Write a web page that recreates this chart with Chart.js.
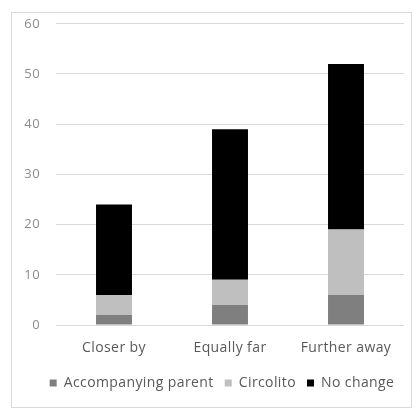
<!DOCTYPE html>
<html>
<head>
<meta charset="utf-8">
<script src="https://cdn.jsdelivr.net/npm/chart.js@4.4.1/dist/chart.umd.min.js"></script>
<style>
  html, body { margin: 0; padding: 0; background: #fff; }
  #wrap { position: relative; width: 416px; height: 410px; }
  #frame { position: absolute; left: 11px; top: 12px; width: 401px; height: 396px; border: 1px solid #d9d9d9; box-sizing: border-box; pointer-events: none; }
  canvas { position: absolute; left: 0; top: 0; }
</style>
</head>
<body>
<div id="wrap">
  <canvas id="c" width="416" height="410"></canvas>
  <div id="frame"></div>
</div>
<script>
// Distance categories and stacked counts per group
const categories = ['Closer by', 'Equally far', 'Further away'];
const accompanyingParent = [2, 4, 6];
const circolito = [4, 5, 13];
const noChange = [18, 30, 33];
const yTicks = [0, 10, 20, 30, 40, 50, 60];

const font = "'Open Sans', 'DejaVu Sans', sans-serif";

// Slightly looser letter spacing for all canvas text
const spacing = {
  id: 'spacing',
  beforeUpdate: c => { c.ctx.letterSpacing = '0.4px'; },
  beforeDraw: c => { c.ctx.letterSpacing = '0.4px'; }
};

// Centre the legend row under the whole frame rather than the canvas
const legendShift = {
  id: 'legendShift',
  afterLayout: c => {
    if (c.legend) { c.legend.left += 20; c.legend.right += 20; }
  }
};

new Chart(document.getElementById('c'), {
  type: 'bar',
  data: {
    labels: categories,
    datasets: [
      { label: 'Accompanying parent', data: accompanyingParent, backgroundColor: '#7f7f7f' },
      { label: 'Circolito', data: circolito, backgroundColor: '#bfbfbf' },
      { label: 'No change', data: noChange, backgroundColor: '#000000' }
    ]
  },
  plugins: [spacing, legendShift],
  options: {
    responsive: false,
    animation: false,
    layout: { padding: { left: 0, right: 12, top: 22, bottom: 10 } },
    datasets: { bar: { barPercentage: 0.62, categoryPercentage: 0.5 } },
    scales: {
      x: {
        stacked: true,
        grid: { display: false },
        border: { display: false },
        ticks: { color: '#595959', font: { family: font, size: 14 }, padding: 7 },
        afterFit: s => { s.height = 40; }
      },
      y: {
        stacked: true,
        min: yTicks[0],
        max: yTicks[yTicks.length - 1],
        afterBuildTicks: s => { s.ticks = yTicks.map(v => ({ value: v })); },
        grid: { color: '#d9d9d9', drawTicks: false },
        border: { display: false },
        ticks: { color: '#8c8c8c', font: { family: font, size: 13 }, padding: 16 },
        afterFit: s => { s.width = 56; }
      }
    },
    plugins: {
      legend: {
        position: 'bottom',
        labels: {
          color: '#595959',
          font: { family: font, size: 14 },
          boxWidth: 7,
          boxHeight: 7,
          padding: 11
        }
      },
      tooltip: { enabled: false }
    }
  }
});
</script>
</body>
</html>
